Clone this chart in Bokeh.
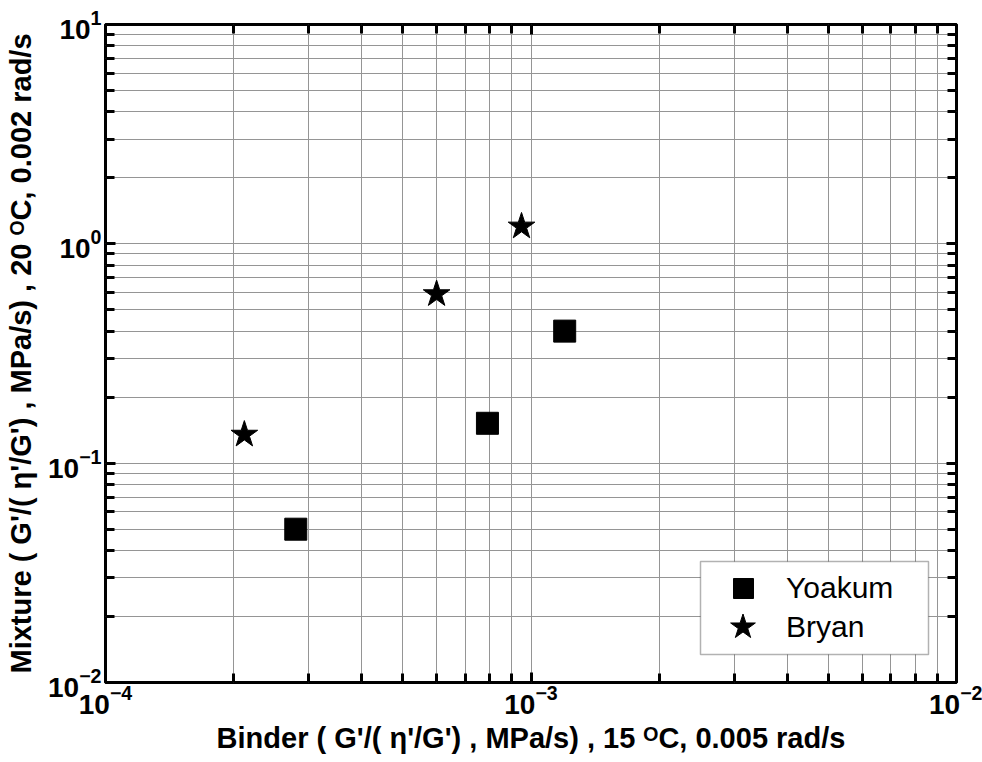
from bokeh.plotting import figure
from bokeh.models import (FixedTicker, LogAxis, Legend, LegendItem,
                          BoxAnnotation, CustomJSTickFormatter, LogTickFormatter)
from bokeh.embed import file_html
from bokeh.resources import INLINE

# ---------------- data ----------------
yoakum_x = [2.8e-4, 7.9e-4, 1.2e-3]
yoakum_y = [0.050, 0.152, 0.40]
bryan_x = [2.12e-4, 6.0e-4, 9.5e-4]
bryan_y = [0.135, 0.59, 1.2]
x_tick_exponents = [-4, -3, -2]
y_tick_exponents = [-2, -1, 0, 1]
x_title = "Binder ( G'/( \u03b7'/G') , MPa/s) , 15 \u1d3cC, 0.005 rad/s"
y_title = "Mixture ( G'/( \u03b7'/G') , MPa/s) , 20 \u1d3cC, 0.002 rad/s"
legend_labels = ["Yoakum", "Bryan"]

FONT = "Liberation Sans"
W, H = 982, 762
FL, FT, FR, FB = 105, 24, 956, 682   # frame edges on the canvas

p = figure(width=W, height=H, x_axis_type="log", y_axis_type="log",
           x_range=(1e-4, 1e-2), y_range=(1e-2, 1e1),
           output_backend="svg", toolbar_location=None,
           min_border_left=FL, min_border_right=W - FR,
           min_border_top=FT, min_border_bottom=H - FB)
p.background_fill_color = "white"
p.border_fill_color = "white"
p.outline_line_color = "black"
p.outline_line_width = 3

xmaj = [10.0 ** e for e in x_tick_exponents]
xmin = [k * 10.0 ** e for e in x_tick_exponents[:-1] for k in range(2, 10)]
ymaj = [10.0 ** e for e in y_tick_exponents]
ymin = [k * 10.0 ** e for e in y_tick_exponents[:-1] for k in range(2, 10)]
xt = FixedTicker(ticks=xmaj, minor_ticks=xmin)
yt = FixedTicker(ticks=ymaj, minor_ticks=ymin)

top_ax = LogAxis()
right_ax = LogAxis()
p.add_layout(top_ax, "above")
p.add_layout(right_ax, "right")
empty = CustomJSTickFormatter(code="return ''")
for ax in p.xaxis:
    ax.ticker = xt
for ax in p.yaxis:
    ax.ticker = yt
for ax in p.axis:
    ax.axis_line_color = None
    ax.major_tick_in = 10
    ax.major_tick_out = 0
    ax.minor_tick_in = 9
    ax.minor_tick_out = 0
    ax.major_tick_line_width = 3
    ax.minor_tick_line_width = 3
    ax.major_tick_line_color = "black"
    ax.minor_tick_line_color = "black"
    ax.major_label_text_font = FONT
    ax.major_label_text_font_style = "bold"
    ax.major_label_text_font_size = "28px"
    ax.major_label_text_color = "black"
    ax.axis_label_text_font = FONT
    ax.axis_label_text_font_style = "bold"
    ax.axis_label_text_font_size = "29px"
    ax.axis_label_text_color = "black"
for ax in (top_ax, right_ax):
    ax.formatter = empty

bx = p.below[0]
bx.formatter = LogTickFormatter()
bx.major_label_standoff = 2
bx.axis_label = x_title
bx.axis_label_standoff = 5

ly = p.left[0]
ly.formatter = LogTickFormatter()
ly.major_label_standoff = 4
ly.axis_label = y_title
ly.axis_label_standoff = 8

p.xgrid.ticker = xt
p.ygrid.ticker = yt
for g in (p.xgrid[0], p.ygrid[0]):
    g.grid_line_color = "#959595"
    g.grid_line_width = 1
    g.minor_grid_line_color = "#959595"
    g.minor_grid_line_width = 1

sq = p.scatter(yoakum_x, yoakum_y, marker="square", size=22,
               fill_color="black", line_color="black")
st = p.scatter(bryan_x, bryan_y, marker="star", size=28,
               fill_color="black", line_color="black")

# ---------------- legend ----------------
box = BoxAnnotation(left=595, right=823, bottom=28, top=121,
                    left_units="screen", right_units="screen",
                    top_units="screen", bottom_units="screen",
                    fill_color="white", fill_alpha=1.0,
                    line_color="black", line_width=1.5)
p.add_layout(box)

common = dict(padding=0, margin=0, spacing=0, border_line_alpha=0,
              background_fill_alpha=0, label_text_font=FONT,
              label_text_font_size="30px", label_text_color="black")
leg1 = Legend(items=[LegendItem(label=legend_labels[0], renderers=[sq])],
              location=(613, 69), glyph_width=50, glyph_height=50,
              label_standoff=18, **common)
leg2 = Legend(items=[LegendItem(label=legend_labels[1], renderers=[st])],
              location=(605, 23), glyph_width=65, glyph_height=65,
              label_standoff=11, **common)
p.add_layout(leg1)
p.add_layout(leg2)

open("out.html", "w").write(file_html(p, INLINE))
